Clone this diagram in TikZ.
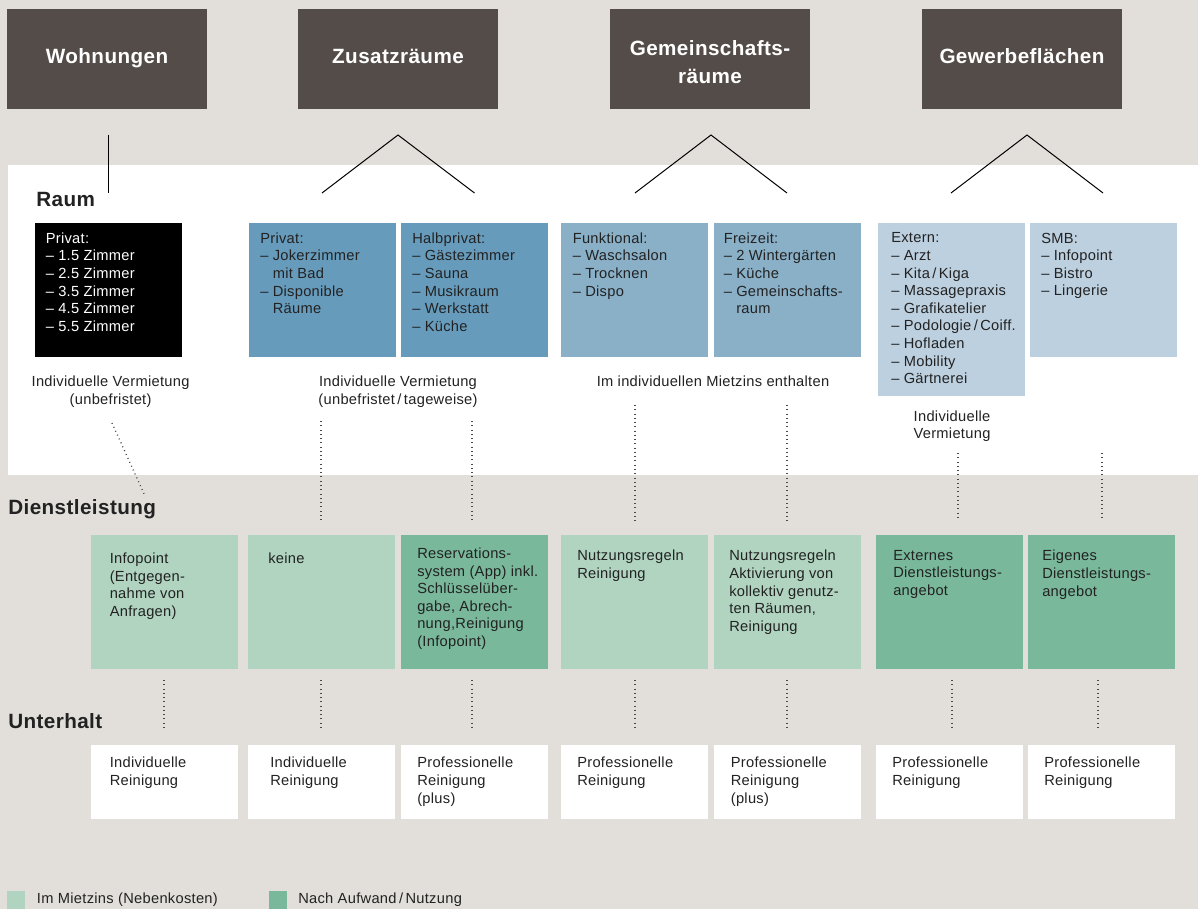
\documentclass[tikz,border=0pt]{standalone}
\usepackage{fontspec}
\setmainfont{Liberation Sans}[LetterSpace=2]
\definecolor{bg}{HTML}{E2DFDA}
\definecolor{head}{HTML}{544C48}
\definecolor{blueA}{HTML}{679BBC}
\definecolor{blueB}{HTML}{8AB0C8}
\definecolor{blueC}{HTML}{BDD0E0}
\definecolor{greenL}{HTML}{B0D4C0}
\definecolor{greenD}{HTML}{79B89A}
\definecolor{ink}{HTML}{222222}
\definecolor{dotc}{HTML}{4A4A4A}
\newcommand{\ind}{\hphantom{– }}
\begin{document}
\begin{tikzpicture}[x=0.75pt,y=-0.75pt,
  headbox/.style={inner sep=0pt, outer sep=0pt, fill=head, minimum width=150pt, minimum height=75pt},
  headtxt/.style={inner sep=0pt, text=white, align=center, font=\fontsize{15.5}{20.8}\bfseries\selectfont},
  box/.style={anchor=north west, inner sep=0pt, outer sep=0pt, minimum width=110.25pt, minimum height=100.5pt},
  ubox/.style={box, fill=white, minimum height=55.5pt},
  txt/.style={anchor=north west, inner sep=0pt, align=left, text=ink, font=\fontsize{11}{13.2}\selectfont},
  ctxt/.style={anchor=north, inner sep=0pt, align=center, text=ink, font=\fontsize{11}{13.2}\selectfont},
  sect/.style={anchor=west, inner sep=0pt, text=ink, font=\fontsize{15.5}{18}\bfseries\selectfont},
  link/.style={draw=black, line width=0.75pt},
  dots/.style={draw=dotc, line width=1pt, dash pattern=on 0.7pt off 2.5pt}
]
\useasboundingbox (0,0) rectangle (1198,909);
\fill[bg] (0,0) rectangle (1198,909);
\fill[white] (8,165) rectangle (1198,475);

% header boxes
\node[headbox] (h1) at (107,59) {};
\node[headbox] (h2) at (398,59) {};
\node[headbox] (h3) at (710,59) {};
\node[headbox] (h4) at (1022,59) {};
\node[headtxt, anchor=base] (h1t) at (107,64) {Wohnungen};
\node[headtxt, anchor=base] (h2t) at (398,64) {Zusatzräume};
\node[headtxt, anchor=center] (h3t) at (710,62) {Gemeinschafts-\\räume};
\node[headtxt, anchor=base] (h4t) at (1022,64) {Gewerbeflächen};

% connector coordinates
\coordinate (w1) at (108.3,135);
\coordinate (w2) at (108.3,193);
\coordinate (z0) at (398,135);
\coordinate (zl) at (322,193);
\coordinate (zr) at (474.5,193);
\coordinate (g0) at (711,135);
\coordinate (gl) at (635,193);
\coordinate (gr) at (787,193);
\coordinate (f0) at (1027,135);
\coordinate (fl) at (951,193);
\coordinate (fr) at (1103,193);
\draw[link] (w1) -- (w2);
\draw[link] (zl) -- (z0) -- (zr);
\draw[link] (gl) -- (g0) -- (gr);
\draw[link] (fl) -- (f0) -- (fr);

% section labels
\node[sect] (sraum) at (36,199) {Raum};
\node[sect] (sdienst) at (8,509) {Dienstleistung};
\node[sect] (sunter) at (8,721) {Unterhalt};

% Raum boxes
\node[box, fill=black] (r1) at (35,223) {};
\node[box, fill=blueA] (r2) at (249,223) {};
\node[box, fill=blueA] (r3) at (401,223) {};
\node[box, fill=blueB] (r4) at (561,223) {};
\node[box, fill=blueB] (r5) at (714,223) {};
\node[box, fill=blueC, minimum height=129.75pt] (r6) at (878,223) {};
\node[box, fill=blueC] (r7) at (1030,223) {};

\node[txt, text=white] (r1t) at (45.5,232.5) {Privat:\\– 1.5 Zimmer\\– 2.5 Zimmer\\– 3.5 Zimmer\\– 4.5 Zimmer\\– 5.5 Zimmer};
\node[txt] (r2t) at (260,232.5) {Privat:\\– Jokerzimmer\\\ind mit Bad\\– Disponible\\\ind Räume};
\node[txt] (r3t) at (412,232.5) {Halbprivat:\\– Gästezimmer\\– Sauna\\– Musikraum\\– Werkstatt\\– Küche};
\node[txt] (r4t) at (572.5,232.5) {Funktional:\\– Waschsalon\\– Trocknen\\– Dispo};
\node[txt] (r5t) at (723.5,232.5) {Freizeit:\\– 2 Wintergärten\\– Küche\\– Gemeinschafts-\\\ind raum};
\node[txt] (r6t) at (891,232.5) {Extern:\\– Arzt\\– Kita\,/\,Kiga\\– Massagepraxis\\– Grafikatelier\\– Podologie\,/\,Coiff.\\– Hofladen\\– Mobility\\– Gärtnerei};
\node[txt] (r7t) at (1041,232.5) {SMB:\\– Infopoint\\– Bistro\\– Lingerie};

% Raum captions
\node[ctxt] (c1) at (110.6,376) {Individuelle Vermietung\\(unbefristet)};
\node[ctxt] (c2) at (398,376) {Individuelle Vermietung\\(unbefristet\,/\,tageweise)};
\node[ctxt] (c3) at (713,376) {Im individuellen Mietzins enthalten};
\node[ctxt] (c4) at (952,410.5) {Individuelle\\Vermietung};

% dotted connectors Raum -> Dienstleistung
\coordinate (a1) at (112,423); \coordinate (b1) at (145,496);
\coordinate (a2) at (321,421);  \coordinate (b2) at (321,520);
\coordinate (a3) at (472,421);  \coordinate (b3) at (472,520);
\coordinate (a4) at (635,405);  \coordinate (b4) at (635,522);
\coordinate (a5) at (787,405);  \coordinate (b5) at (787,522);
\coordinate (a6) at (958,453);  \coordinate (b6) at (958,519);
\coordinate (a7) at (1102,453); \coordinate (b7) at (1102,519);
\foreach \i in {1,...,7} {\draw[dots] (a\i) -- (b\i);}

% Dienstleistung boxes
\node[box, fill=greenL] (d1) at (91,535) {};
\node[box, fill=greenL] (d2) at (248,535) {};
\node[box, fill=greenD] (d3) at (401,535) {};
\node[box, fill=greenL] (d4) at (561,535) {};
\node[box, fill=greenL] (d5) at (714,535) {};
\node[box, fill=greenD] (d6) at (876,535) {};
\node[box, fill=greenD] (d7) at (1028,535) {};

\node[txt] (d1t) at (109.5,552.5) {Infopoint\\(Entgegen-\\nahme von\\Anfragen)};
\node[txt] (d2t) at (268,552.5) {keine};
\node[txt] (d3t) at (417,547.5) {Reservations-\\system (App) inkl.\\Schlüsselüber-\\gabe, Abrech-\\nung,Reinigung\\(Infopoint)};
\node[txt] (d4t) at (577,550) {Nutzungsregeln\\Reinigung};
\node[txt] (d5t) at (729,550) {Nutzungsregeln\\Aktivierung von\\kollektiv genutz-\\ten Räumen,\\Reinigung};
\node[txt] (d6t) at (893,550) {Externes\\Dienstleistungs-\\angebot};
\node[txt] (d7t) at (1042,550) {Eigenes\\Dienstleistungs-\\angebot};

% dotted connectors Dienstleistung -> Unterhalt
\coordinate (p1) at (164,680);   \coordinate (q1) at (164,727);
\coordinate (p2) at (321,680);   \coordinate (q2) at (321,727);
\coordinate (p3) at (472,680);   \coordinate (q3) at (472,727);
\coordinate (p4) at (635,680);   \coordinate (q4) at (635,727);
\coordinate (p5) at (787,680);   \coordinate (q5) at (787,727);
\coordinate (p6) at (952,680);   \coordinate (q6) at (952,727);
\coordinate (p7) at (1098,680);  \coordinate (q7) at (1098,727);
\foreach \i in {1,...,7} {\draw[dots] (p\i) -- (q\i);}

% Unterhalt boxes
\node[ubox] (u1) at (91,745) {};
\node[ubox] (u2) at (248,745) {};
\node[ubox] (u3) at (401,745) {};
\node[ubox] (u4) at (561,745) {};
\node[ubox] (u5) at (714,745) {};
\node[ubox] (u6) at (876,745) {};
\node[ubox] (u7) at (1028,745) {};

\node[txt] (u1t) at (109.5,757) {Individuelle\\Reinigung};
\node[txt] (u2t) at (270,757) {Individuelle\\Reinigung};
\node[txt] (u3t) at (417,757) {Professionelle\\Reinigung\\(plus)};
\node[txt] (u4t) at (577,757) {Professionelle\\Reinigung};
\node[txt] (u5t) at (730.6,757) {Professionelle\\Reinigung\\(plus)};
\node[txt] (u6t) at (892,757) {Professionelle\\Reinigung};
\node[txt] (u7t) at (1044,757) {Professionelle\\Reinigung};

% legend
\fill[greenL] (7,891) rectangle (25,909);
\node[anchor=west, inner sep=0pt, text=ink, font=\fontsize{11}{13.2}\selectfont] (l1) at (36.7,899.5) {Im Mietzins (Nebenkosten)};
\fill[greenD] (269,891) rectangle (287,909);
\node[anchor=west, inner sep=0pt, text=ink, font=\fontsize{11}{13.2}\selectfont] (l2) at (298,899.5) {Nach Aufwand\,/\,Nutzung};
\end{tikzpicture}
\end{document}
